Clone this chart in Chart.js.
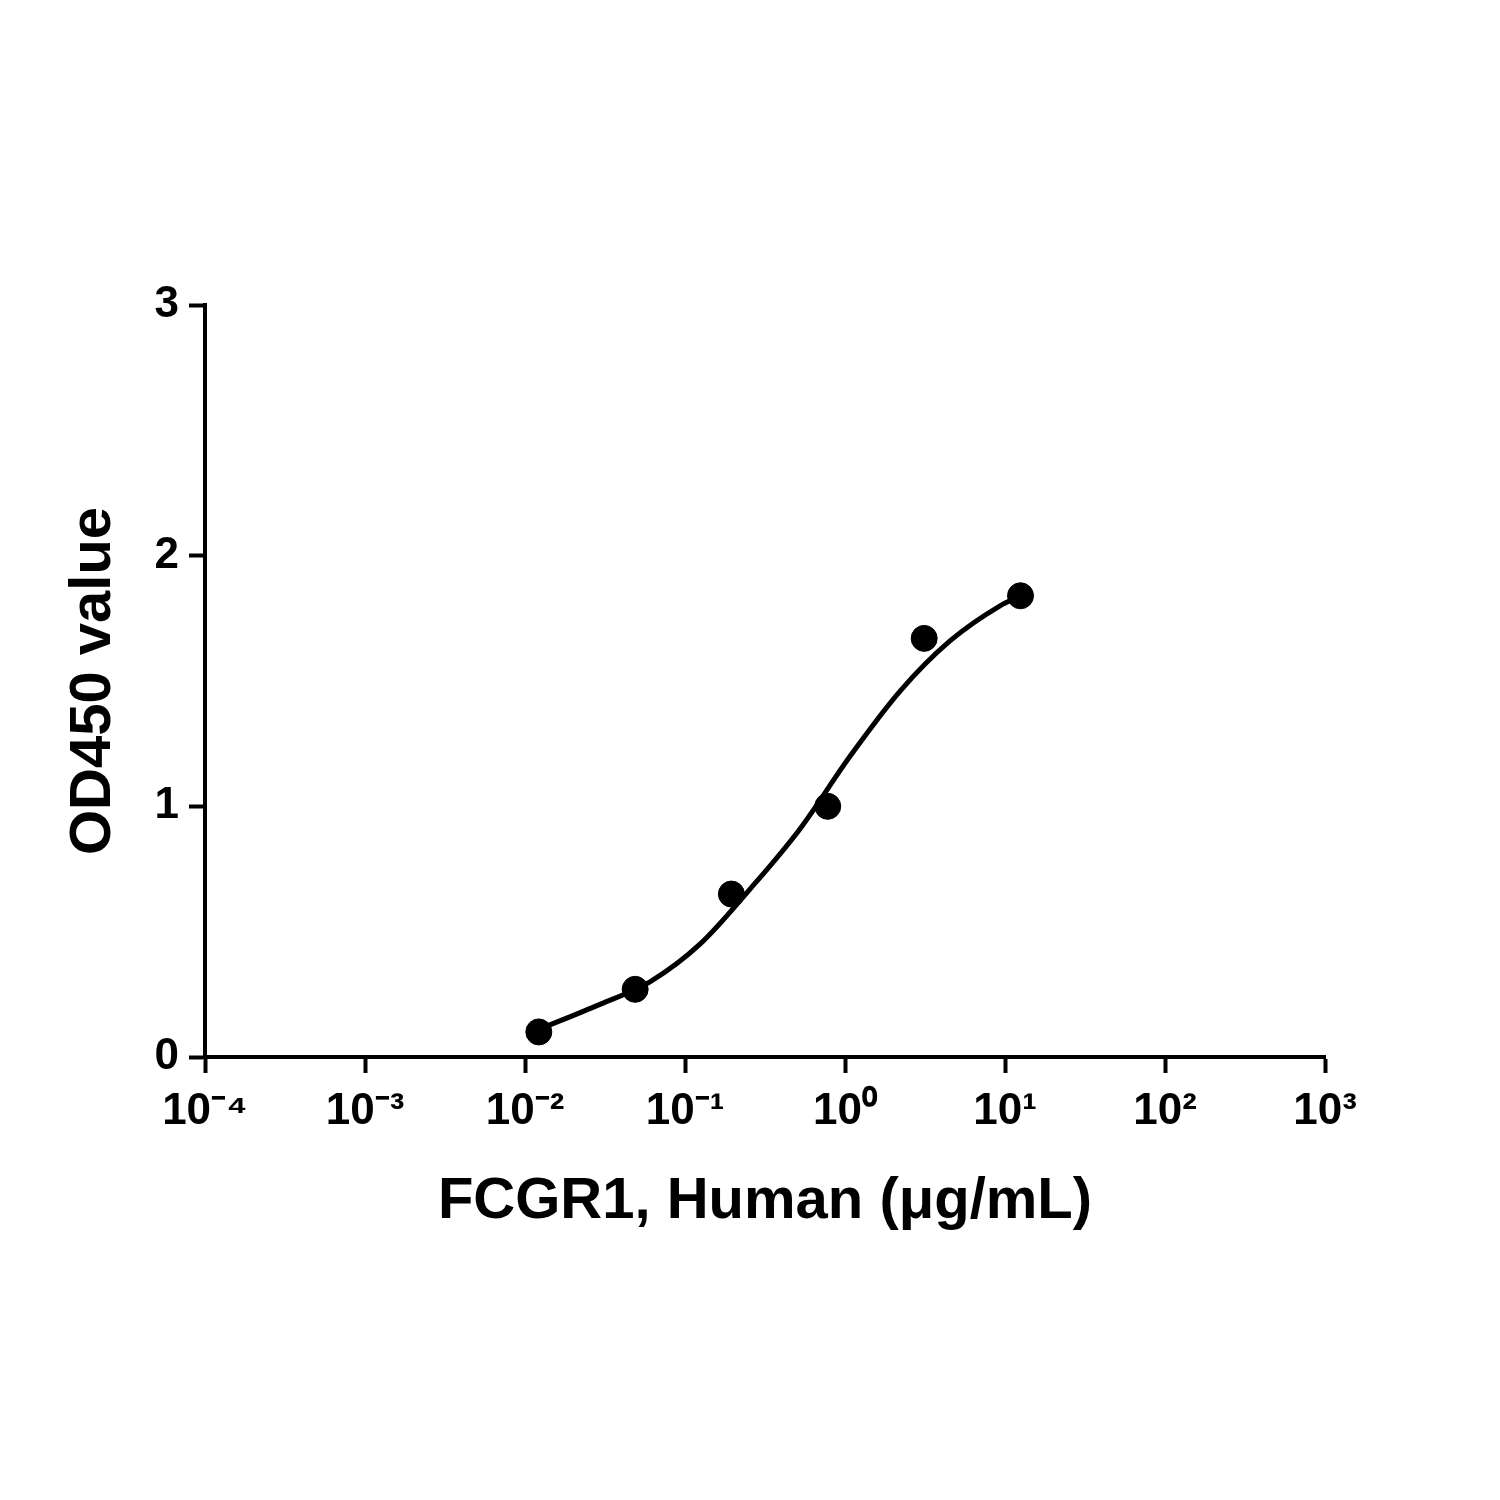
<!DOCTYPE html>
<html><head><meta charset="utf-8">
<script src="https://cdn.jsdelivr.net/npm/chart.js@4/dist/chart.umd.min.js"></script>
<style>html,body{margin:0;padding:0;background:#fff}#w{width:1500px;height:1500px}</style>
</head><body><div id="w"><canvas id="c" width="1500" height="1500"></canvas></div>
<script>
const concentrations = [0.0122, 0.0488, 0.195, 0.78, 3.125, 12.5];
const od450 = [0.10, 0.27, 0.65, 1.00, 1.67, 1.84];
const fitX = [0.0122, 0.0294, 0.0604, 0.124, 0.255, 0.523, 1.075, 2.21, 4.53, 9.31, 12.5];
const fitY = [0.11, 0.21, 0.30, 0.45, 0.67, 0.91, 1.20, 1.46, 1.66, 1.80, 1.84];
const xDecades = [-4, -3, -2, -1, 0, 1, 2, 3];
const yTicks = [0, 1, 2, 3];
const sup = {'-':'⁻','0':'⁰','1':'¹','2':'²','3':'³','4':'⁴'};
const supStr = e => String(e).split('').map(c => sup[c]).join('');
const F = 'Liberation Sans, Arial, sans-serif';
new Chart(document.getElementById('c'), {
  type: 'scatter',
  data: { datasets: [
    { type:'line', data: fitX.map((x,i)=>({x, y: fitY[i]})), borderColor:'#000', borderWidth:5, pointRadius:0, tension:0.4, cubicInterpolationMode:'monotone', fill:false },
    { data: concentrations.map((x,i)=>({x, y: od450[i]})), backgroundColor:'#000', borderColor:'#000', pointRadius:13 }
  ]},
  options: {
    responsive:false, animation:false, devicePixelRatio:1,
    plugins:{legend:{display:false}, tooltip:{enabled:false}},
    layout:{padding:{left:55, top:305, right:175, bottom:263}},
    scales:{
      x:{ type:'logarithmic', min:1e-4, max:1e3,
        afterBuildTicks: s => { s.ticks = xDecades.map(e => ({value: Math.pow(10, e)})); },
        afterFit: s => { s.height = 180; },
        ticks:{ autoSkip:false, maxRotation:0, color:'#000', font:{family:F, size:44, weight:'bold'}, padding:12,
          callback: v => { const e = Math.round(Math.log10(v)); return '10' + supStr(e); } },
        grid:{ drawOnChartArea:false, tickLength:16, tickWidth:4, color:'#000' },
        border:{ width:4, color:'#000' },
        title:{ display:true, text:'FCGR1, Human (μg/mL)', color:'#000', font:{family:F, size:58, weight:'bold'}, padding:{top:0, bottom:0} }
      },
      y:{ min:0, max:3,
        afterBuildTicks: s => { s.ticks = yTicks.map(v => ({value:v})); },
        afterFit: s => { s.width = 150; },
        ticks:{ color:'#000', font:{family:F, size:44, weight:'bold'}, padding:10 },
        grid:{ drawOnChartArea:false, tickLength:16, tickWidth:4, color:'#000' },
        border:{ width:4, color:'#000' },
        title:{ display:true, text:'OD450 value', color:'#000', font:{family:F, size:58, weight:'bold'}, padding:{bottom:0} }
      }
    }
  }
});
</script></body></html>
